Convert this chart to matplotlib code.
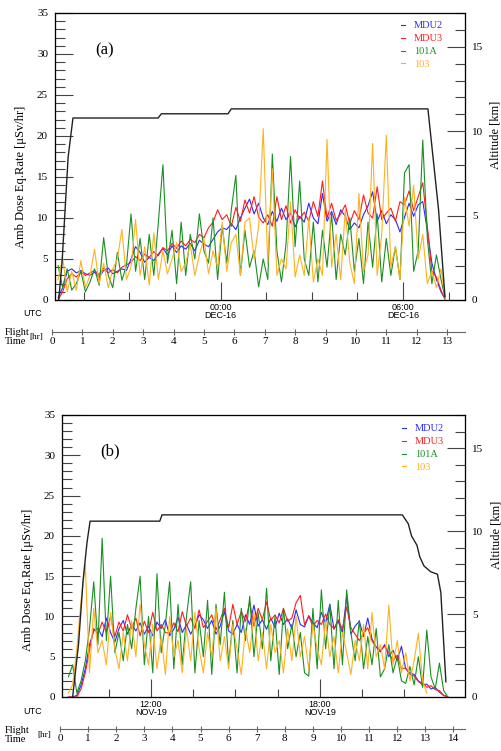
import numpy as np
import matplotlib
matplotlib.use('Agg')
from matplotlib import pyplot as plt

SERIF = ['Liberation Serif', 'DejaVu Serif']
SANS = ['Liberation Sans', 'DejaVu Sans']

names = ['MDU2', 'MDU3', '101A', '103']
colors = ['#2a2aff', '#ff1c1c', '#1a8f22', '#ffb11f']

# ---- panel (a): dose rate, flight time grid in hours ----
t_a = 0.2 + 0.15 * np.arange(86)
mdu2_a = [0.3, 1.5, 3.5, 3.8, 3.3, 3.6, 3.2, 3.0, 3.4, 2.8,
          3.6, 3.9, 3.2, 3.5, 3.8, 3.6, 5.0, 6.5, 5.8, 4.6,
          5.2, 4.8, 5.6, 6.3, 5.5, 6.6, 5.8, 6.6, 6.2, 6.9,
          6.0, 7.3, 6.8, 6.5, 7.4, 8.3, 8.8, 8.6, 9.3, 8.6,
          10.0, 11.2, 12.3, 10.5, 11.8, 10.0, 9.2, 10.8, 9.6, 11.2,
          9.8, 10.6, 8.9, 10.2, 9.5, 11.8, 10.0, 9.3, 13.0, 9.6,
          10.8, 9.2, 11.0, 10.2, 8.6, 9.4, 8.8, 10.4, 11.5, 13.2,
          9.6, 10.9, 9.3, 10.4, 9.8, 8.3, 10.1, 11.8, 10.2, 11.6,
          12.0, 8.5, 4.5, 2.5, 1.0, 0.0]
mdu3_a = [0.0, 1.0, 2.6, 3.2, 2.8, 3.4, 3.0, 3.3, 3.6, 3.1,
          3.9, 3.3, 3.7, 3.3, 4.0, 4.3, 4.6, 5.3, 4.8, 5.6,
          5.2, 5.9, 5.4, 6.4, 6.0, 6.9, 6.3, 7.2, 6.6, 7.4,
          7.0, 8.0, 7.6, 8.8, 9.5, 11.0, 9.8, 10.4, 9.0, 11.3,
          9.6, 12.2, 10.6, 12.6, 10.1, 9.4, 10.4, 9.0, 12.6, 9.8,
          11.5, 9.4, 11.0, 9.9, 10.7, 9.6, 12.0, 10.2, 14.5, 10.0,
          11.8, 9.7, 10.5, 11.6, 9.3, 10.9, 9.8, 12.8, 10.6, 10.0,
          13.8, 9.8, 10.6, 11.2, 9.6, 12.0, 11.6, 13.3, 10.9, 12.6,
          14.3, 9.0, 3.5, 2.8, 1.2, 0.0]
s101a_a = [4.2, 1.5, 3.8, 1.2, 2.0, 3.5, 1.0, 2.2, 3.8, 1.8,
           7.6, 3.0, 1.5, 5.8, 2.4, 4.2, 10.5, 3.5, 7.5, 2.5,
           8.0, 3.0, 9.5, 16.5, 4.5, 8.5, 2.0, 9.5, 3.0, 8.0,
           5.0, 10.5, 6.0, 4.5, 10.0, 2.5, 9.0, 4.5, 11.0, 15.2,
           3.0, 8.5, 4.0, 6.0, 1.6, 5.0, 2.5, 17.8, 6.0, 2.2,
           6.8, 17.5, 6.5, 14.5, 5.0, 3.0, 9.5, 2.2, 8.5, 4.0,
           10.5, 2.5, 8.0, 5.5, 10.0, 3.5, 7.5, 2.0, 9.5, 4.0,
           10.5, 2.2, 7.5, 3.0, 6.5, 2.5, 15.5, 16.5, 3.5, 6.0,
           19.5, 7.5, 2.0, 5.5, 2.5, 0.0]
s103_a = [2.5, 5.2, 1.0, 3.5, 1.2, 4.8, 1.5, 3.0, 6.2, 2.0,
          4.5, 1.5, 3.8, 5.0, 8.6, 2.5, 4.0, 9.8, 3.0, 6.5,
          1.8, 8.2, 2.5, 6.0, 3.2, 5.0, 7.0, 3.5, 4.5, 6.8,
          3.0, 5.5, 7.5, 3.2, 6.0, 4.0, 9.5, 3.5, 7.0, 8.0,
          3.0, 9.5, 10.0, 5.0, 9.0, 20.9, 4.5, 16.0, 3.0, 5.0,
          3.8, 12.0, 2.8, 5.5, 3.0, 10.0, 2.2, 5.0, 3.0, 19.6,
          4.0, 8.0, 2.5, 11.0, 4.5, 2.0, 13.0, 3.5, 5.5, 19.1,
          3.0, 8.0, 20.1, 4.0, 6.5, 2.5, 12.5, 9.0, 14.0, 5.0,
          8.0, 2.0, 3.5, 1.5, 3.8, 0.0]
alt_t_a = [0.22, 0.33, 0.53, 0.69, 3.49, 3.6, 5.79, 5.9, 12.37, 12.72, 12.93]
alt_km_a = [0.0, 2.2, 8.45, 10.78, 10.78, 11.03, 11.03, 11.32, 11.32, 5.35, 0.2]

utc_minor_a = [1.05, 2.55, 4.05, 7.05, 8.55, 10.05, 13.05]
utc_major_a = [5.55, 11.55]
utc_labels_a = ['00:00\nDEC-16', '06:00\nDEC-16']

# ---- panel (b) ----
t_b = 0.3 + 0.15 * np.arange(91)
mdu2_b = [0.0, 0.0, 0.2, 1.5, 3.5, 6.5, 8.2, 8.5, 7.5, 9.8,
          8.0, 6.8, 8.5, 9.5, 7.8, 9.0, 8.2, 9.2, 7.8, 8.8,
          7.6, 9.3, 8.5, 9.6, 7.6, 8.4, 9.9, 8.0, 9.0, 7.8,
          8.8, 10.2, 9.6, 8.5, 9.5, 7.8, 8.8, 10.6, 8.2, 7.8,
          9.0, 8.0, 10.2, 9.0, 11.4, 8.8, 9.6, 8.4, 9.8, 8.6,
          10.4, 9.0, 9.7, 8.5, 10.8, 9.0, 8.7, 10.1, 9.2, 8.6,
          10.5, 9.2, 11.5, 8.4, 9.4, 8.0, 12.5, 7.8, 8.8, 9.4,
          7.5, 9.8, 7.2, 6.2, 5.6, 6.5, 5.0, 5.8, 4.5, 6.3,
          3.5, 3.0, 2.8, 2.0, 1.5, 1.6, 1.0, 1.2, 0.6, 0.2,
          0.0]
mdu3_b = [0.0, 0.0, 0.0, 1.0, 3.0, 5.8, 8.5, 7.8, 9.3, 8.0,
          10.0, 7.5, 9.3, 8.2, 10.2, 8.5, 9.8, 7.6, 9.4, 8.0,
          10.5, 8.2, 9.0, 8.0, 7.9, 9.2, 8.1, 10.6, 8.8, 9.8,
          8.5, 10.8, 8.6, 9.4, 10.2, 8.3, 9.6, 11.0, 8.6, 11.5,
          9.0, 10.6, 9.4, 11.8, 8.8, 11.0, 9.6, 11.8, 9.5, 10.2,
          9.2, 11.0, 9.4, 9.8, 11.7, 12.6, 9.0, 10.0, 8.8, 9.5,
          9.0, 10.3, 9.0, 8.5, 9.6, 8.4, 11.2, 8.6, 7.8, 7.0,
          7.9, 8.6, 7.0, 6.2, 5.8, 6.3, 5.5, 4.5, 5.2, 3.5,
          3.6, 2.8, 2.6, 1.9, 1.8, 1.2, 1.4, 0.9, 0.8, 0.2,
          0.0]
s101a_b = [2.5, 4.0, 0.5, 2.0, 4.5, 8.5, 14.3, 6.5, 19.7, 7.0,
           15.0, 5.5, 8.0, 4.5, 9.0, 6.0, 11.0, 15.0, 4.0, 10.0,
           3.0, 15.3, 5.5, 9.0, 14.3, 3.5, 11.5, 4.0, 10.0, 14.3,
           3.0, 9.5, 5.0, 12.0, 2.8, 11.5, 6.5, 13.0, 4.0, 9.5,
           3.0, 11.0, 7.0, 12.5, 5.0, 10.5, 6.0, 13.5, 4.5, 10.0,
           2.8, 11.0, 6.0, 9.0, 5.0, 8.0, 3.0, 2.6, 11.0, 3.5,
           13.3, 6.0, 11.5, 3.5, 12.0, 4.0, 13.3, 8.0, 4.5, 9.5,
           3.5, 7.5, 4.0, 8.5, 2.5, 3.5, 6.5, 3.0, 5.0, 2.0,
           1.7, 3.8, 1.5, 5.0, 1.2, 8.3, 2.5, 1.0, 4.2, 0.8,
           0.0]
s103_b = [0.5, 1.5, 6.0, 12.0, 16.4, 3.0, 11.0, 5.5, 7.0, 4.0,
          10.5, 6.0, 3.5, 8.0, 4.5, 9.5, 5.0, 11.5, 6.5, 4.0,
          9.0, 3.5, 7.5, 2.8, 10.0, 5.0, 7.0, 3.0, 8.5, 4.5,
          10.5, 6.0, 3.0, 8.0, 5.0, 11.0, 4.5, 7.5, 3.5, 9.0,
          6.0, 2.8, 8.5, 5.5, 10.5, 4.5, 8.0, 3.5, 9.0, 5.5,
          7.0, 3.0, 8.5, 4.5, 10.0, 5.0, 7.5, 3.5, 9.0, 6.0,
          4.0, 9.5, 5.0, 7.5, 3.0, 8.0, 5.5, 2.8, 7.0, 4.5,
          9.0, 3.5, 10.5, 5.0, 6.5, 3.5, 11.4, 4.0, 7.0, 3.0,
          5.5, 2.0, 4.5, 7.9, 2.0, 0.5, np.nan, np.nan, np.nan, np.nan,
          np.nan]
alt_t_b = [0.45, 0.66, 0.82, 0.96, 1.07, 3.55, 3.63, 12.18, 12.39, 12.51,
           12.7, 12.8, 12.95, 13.19, 13.43, 13.55, 13.73]
alt_km_b = [0.0, 3.2, 7.0, 9.3, 10.6, 10.6, 10.98, 10.98, 10.45, 9.7,
            9.15, 8.45, 7.9, 7.55, 7.4, 6.3, 0.92]

utc_minor_b = [1.74, 4.74, 6.24, 7.74, 10.74, 12.24]
utc_major_b = [3.24, 9.24]
utc_labels_b = ['12:00\nNOV-19', '18:00\nNOV-19']

W, H = 501.0, 751.0
fig = plt.figure(figsize=(5.01, 7.51), dpi=100)
spine_col = '#444444'


def panel(box, flight_box, flight_max, t, series, alt_t, alt_km, utc_minor,
          utc_major, utc_labels, tag, ylab_y, leg_anchor):
    l, top, r, bot = box
    ax = fig.add_axes([l / W, 1 - bot / H, (r - l) / W, (bot - top) / H])
    lines = []
    for vals, c in zip(series, colors):
        ln, = ax.plot(t, vals, color=c, lw=0.8)
        lines.append(ln)
    ax.set_ylim(0, 35)
    ax.set_yticks(np.arange(0, 36, 5))
    ax.set_yticks(np.arange(0, 36, 1), minor=True)
    ax.set_xticks(utc_major)
    ax.set_xticklabels(utc_labels, family=SANS, fontsize=6.5, linespacing=0.95)
    ax.set_xticks(utc_minor, minor=True)
    ax.tick_params(axis='y', which='major', direction='in', length=13, width=0.8,
                   color=spine_col, pad=5, labelsize=8)
    ax.tick_params(axis='y', which='minor', direction='in', length=7, width=0.8,
                   color=spine_col)
    ax.tick_params(axis='x', which='major', direction='in', length=13, width=0.8,
                   color=spine_col, pad=2)
    ax.tick_params(axis='x', which='minor', direction='in', length=6, width=0.8,
                   color=spine_col)
    for lab in ax.get_yticklabels():
        lab.set_family(SERIF)
    for s in ax.spines.values():
        s.set_color(spine_col)
        s.set_linewidth(0.9)
    ax.set_ylabel('Amb Dose Eq.Rate [\u03bcSv/hr]', family=SERIF, fontsize=9)
    ax.yaxis.set_label_coords(-28.0 / (r - l), ylab_y)
    ax.text(0.12, 0.87, tag, transform=ax.transAxes, family=SERIF, fontsize=12,
            ha='center', va='center')
    ax.legend(lines, names, loc='upper left', bbox_to_anchor=leg_anchor,
              frameon=False, handlelength=0.35, handletextpad=0.9,
              labelspacing=0.35, borderpad=0, borderaxespad=0,
              prop=dict(family=SERIF, size=7.5), labelcolor='linecolor')

    ax2 = ax.twinx()
    ax2.plot(alt_t, alt_km, color='#222222', lw=1.0)
    ax2.set_ylim(0, 17)
    ax2.set_yticks([0, 5, 10, 15])
    ax2.set_yticks(np.arange(0, 18, 1), minor=True)
    ax2.tick_params(axis='y', which='major', direction='in', length=13, width=0.8,
                    color=spine_col, pad=5, labelsize=8)
    ax2.tick_params(axis='y', which='minor', direction='in', length=7, width=0.8,
                    color=spine_col)
    for lab in ax2.get_yticklabels():
        lab.set_family(SERIF)
    ax2.set_ylabel('Altitude [km]', family=SERIF, fontsize=9, rotation=90)
    ax2.yaxis.set_label_coords(1 + 25.0 / (r - l), 0.575)

    fl, fy = flight_box
    ax.set_xlim(flight_max * (l - fl) / (r - fl), flight_max)

    fax = fig.add_axes([fl / W, 1 - fy / H, (r - fl) / W, 0.001])
    fax.set_xlim(0, flight_max)
    fax.set_yticks([])
    for side in ['top', 'left', 'right']:
        fax.spines[side].set_visible(False)
    fax.spines['bottom'].set_color('#666666')
    fax.spines['bottom'].set_linewidth(0.8)
    fax.set_xticks(np.arange(0, int(flight_max) + 1))
    fax.tick_params(axis='x', direction='inout', length=5, width=0.8,
                    color='#666666', pad=1, labelsize=8)
    for lab in fax.get_xticklabels():
        lab.set_family(SERIF)
    fax.patch.set_visible(False)
    return ax


panel((55, 13, 465, 300), (52, 332), 13.59, t_a,
      [mdu2_a, mdu3_a, s101a_a, s103_a], alt_t_a, alt_km_a,
      utc_minor_a, utc_major_a, utc_labels_a, '(a)', 0.43, (0.844, 0.972))
panel((62, 415, 465, 697), (60, 729), 14.41, t_b,
      [mdu2_b, mdu3_b, s101a_b, s103_b], alt_t_b, alt_km_b,
      utc_minor_b, utc_major_b, utc_labels_b, '(b)', 0.415, (0.844, 0.968))

# side labels for the time axes
for utc_y, fl_y, hr_x in [(314, 337, 36), (712, 735, 44)]:
    fig.text(33 / W, 1 - utc_y / H, 'UTC', family=SANS, fontsize=6.5,
             ha='center', va='center')
    fig.text(5 / W, 1 - fl_y / H, 'Flight\nTime', family=SERIF, fontsize=7.5,
             ha='left', va='center', linespacing=0.9)
    fig.text(hr_x / W, 1 - fl_y / H, '[hr]', family=SERIF, fontsize=6.5,
             ha='center', va='center')

fig.savefig('out.png', dpi=100)
